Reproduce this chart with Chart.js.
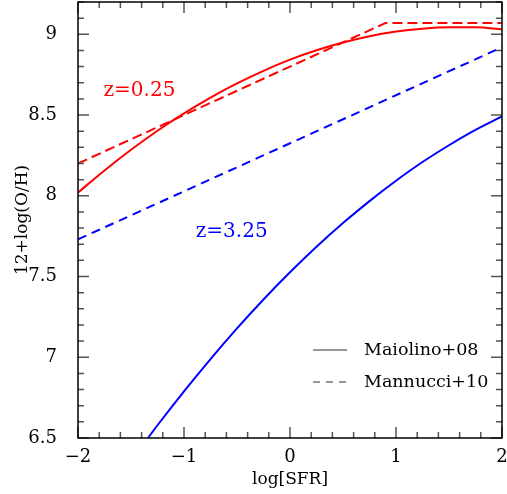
<!DOCTYPE html>
<html>
<head>
<meta charset="utf-8">
<script src="https://cdn.jsdelivr.net/npm/chart.js@4/dist/chart.umd.min.js"></script>
<style>
html,body{margin:0;padding:0;background:#fff;}
#wrap{width:507px;height:494px;position:relative;}
</style>
</head>
<body>
<div id="wrap"><canvas id="c"></canvas></div>
<script>
// ---- data ----
const sfrGrid = [-2,-1.75,-1.5,-1.25,-1,-0.75,-0.5,-0.25,0,0.25,0.5,0.75,1,1.25,1.5,1.75,2];
const maiolinoZ025 = [8.02,8.157,8.285,8.403,8.51,8.608,8.696,8.774,8.843,8.901,8.949,8.988,9.017,9.035,9.044,9.043,9.032];
const maiolinoZ325Sfr = [-1.34,-1.25,-1,-0.75,-0.5,-0.25,0,0.25,0.5,0.75,1,1.25,1.5,1.75,2];
const maiolinoZ325 = [6.5,6.579,6.789,6.989,7.179,7.358,7.526,7.684,7.831,7.967,8.093,8.209,8.313,8.408,8.491];
const mannucciZ025Sfr = [-2,0.9,2];
const mannucciZ025 = [8.2,9.07,9.07];
const mannucciZ325Sfr = [-2,2];
const mannucciZ325 = [7.73,8.92];

const xMajorTicks = [-2,-1,0,1,2];
const yMajorTicks = [6.5,7,7.5,8,8.5,9];
const xMinorStep = 0.2;
const yMinorStep = 0.1;

const zLabels = ['z=0.25','z=3.25'];
const zLabelSfr = [-1.42,-0.55];
const zLabelOH = [8.65,7.78];
const zLabelColors = ['#ff0000','#0000ff'];

const legendLabels = ['Maiolino+08','Mannucci+10'];

const FONT = '"DejaVu Serif", serif';

function pts(xs, ys){ return xs.map((v,i)=>({x:v,y:ys[i]})); }

const frameTicks = {
  id:'frameTicks',
  afterDatasetsDraw(chart){
    const {ctx, chartArea:{left,right,top,bottom}, scales:{x,y}} = chart;
    ctx.save();
    ctx.lineCap = 'butt';
    ctx.strokeStyle = '#555';
    ctx.lineWidth = 1.5;
    const near = (v, arr) => arr.some(a => Math.abs(a - v) < 1e-6);
    for (let v = x.min; v <= x.max + 1e-9; v += xMinorStep) {
      const vv = Math.round(v*1000)/1000;
      const px = x.getPixelForValue(vv);
      const len = near(vv, xMajorTicks) ? 11 : 6;
      ctx.beginPath();
      ctx.moveTo(px, bottom); ctx.lineTo(px, bottom - len);
      ctx.moveTo(px, top); ctx.lineTo(px, top + len);
      ctx.stroke();
    }
    for (let v = y.min; v <= y.max + 1e-9; v += yMinorStep) {
      const vv = Math.round(v*1000)/1000;
      const py = y.getPixelForValue(vv);
      const len = near(vv, yMajorTicks) ? 11 : 6;
      ctx.beginPath();
      ctx.moveTo(left, py); ctx.lineTo(left + len, py);
      ctx.moveTo(right, py); ctx.lineTo(right - len, py);
      ctx.stroke();
    }
    ctx.strokeStyle = '#000';
    ctx.lineWidth = 1.5;
    ctx.strokeRect(left, top, right-left, bottom-top);

    ctx.font = '20px ' + FONT;
    ctx.textAlign = 'center';
    ctx.textBaseline = 'middle';
    zLabels.forEach((t,i)=>{
      ctx.fillStyle = zLabelColors[i];
      ctx.fillText(t, x.getPixelForValue(zLabelSfr[i]), y.getPixelForValue(zLabelOH[i]));
    });

    const lx0 = left + 235, lx1 = left + 269, tx = left + 286;
    const ly = [bottom - 88, bottom - 56];
    ctx.strokeStyle = '#333';
    ctx.lineWidth = 1.2;
    ctx.beginPath(); ctx.moveTo(lx0, ly[0]); ctx.lineTo(lx1, ly[0]); ctx.stroke();
    ctx.setLineDash([7,6]);
    ctx.beginPath(); ctx.moveTo(lx0, ly[1]); ctx.lineTo(lx1+1, ly[1]); ctx.stroke();
    ctx.setLineDash([]);
    ctx.fillStyle = '#000';
    ctx.font = '17.5px ' + FONT;
    ctx.textAlign = 'left';
    legendLabels.forEach((t,i)=> ctx.fillText(t, tx, ly[i]));
    ctx.restore();
  }
};

new Chart(document.getElementById('c'), {
  type: 'scatter',
  data: {
    datasets: [
      {label:'Maiolino+08 z=0.25', data: pts(sfrGrid, maiolinoZ025), borderColor:'#ff0000', borderWidth:2, showLine:true, pointRadius:0, cubicInterpolationMode:'monotone'},
      {label:'Mannucci+10 z=0.25', data: pts(mannucciZ025Sfr, mannucciZ025), borderColor:'#ff0000', borderWidth:2, borderDash:[10,5], showLine:true, pointRadius:0},
      {label:'Maiolino+08 z=3.25', data: pts(maiolinoZ325Sfr, maiolinoZ325), borderColor:'#0000ff', borderWidth:2, showLine:true, pointRadius:0, cubicInterpolationMode:'monotone'},
      {label:'Mannucci+10 z=3.25', data: pts(mannucciZ325Sfr, mannucciZ325), borderColor:'#0000ff', borderWidth:2, borderDash:[9,6], showLine:true, pointRadius:0}
    ]
  },
  options: {
    responsive: true,
    maintainAspectRatio: false,
    animation: false,
    devicePixelRatio: 1,
    layout: {padding: {left:0, right:5, top:2, bottom:0}},
    plugins: {legend:{display:false}, tooltip:{enabled:false}},
    scales: {
      x: {
        type:'linear', min:-2, max:2,
        grid:{display:false}, border:{display:false},
        afterBuildTicks: s => { s.ticks = xMajorTicks.map(v=>({value:v})); },
        afterFit: s => { s.height = 56; s.paddingLeft = 0; s.paddingRight = 0; },
        ticks:{color:'#000', font:{family:FONT, size:18}, padding:1, maxRotation:0, autoSkip:false,
          callback: v => String(v).replace('-', '\u2212')},
        title:{display:true, text:'log[SFR]', color:'#000', font:{family:FONT, size:17}, padding:{top:0,bottom:4}}
      },
      y: {
        type:'linear', min:6.5, max:9.2,
        grid:{display:false}, border:{display:false},
        afterBuildTicks: s => { s.ticks = yMajorTicks.map(v=>({value:v})); },
        afterFit: s => { s.width = 78; s.paddingTop = 0; s.paddingBottom = 0; },
        ticks:{color:'#000', font:{family:FONT, size:18}, padding:13, autoSkip:false,
          callback: v => String(v)},
        title:{display:true, text:'12+log(O/H)', color:'#000', font:{family:FONT, size:17}, padding:{top:12,bottom:0}}
      }
    }
  },
  plugins:[frameTicks]
});
</script>
</body>
</html>
